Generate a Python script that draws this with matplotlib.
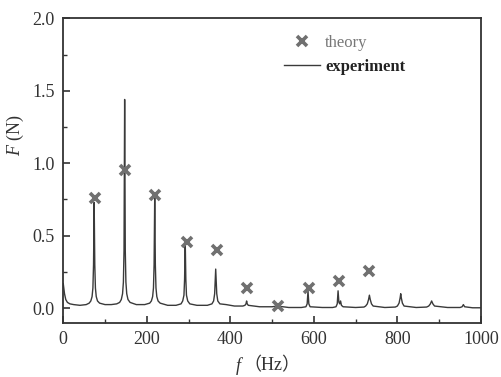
# -*- coding: utf-8 -*-
# 力谱：理论值(散点) vs 实验值(曲线)
import matplotlib.pyplot as plt
from matplotlib.ticker import MultipleLocator

# ===== 数据 =====
theory_f = [75, 148, 220, 296, 368, 440, 515, 589, 661, 733]
theory_F = [0.76, 0.95, 0.78, 0.455, 0.405, 0.14, 0.015, 0.14, 0.185, 0.255]

exp_f = [
    0, 3, 6, 10, 16, 25, 40, 55,
    62, 66, 69, 71, 72.5, 74, 75.5, 77, 79, 82, 87,
    100, 115, 128,
    135, 139, 142, 144, 145.5, 147, 148.5, 150, 152, 155, 160,
    175, 195,
    207, 211, 214, 216, 217.5, 219, 220.5, 222, 224, 227, 232,
    250, 270,
    282, 286, 289, 290.5, 292, 293.5, 295, 298, 303,
    320, 345,
    356, 360, 362.5, 365, 367.5, 370, 375,
    390, 410, 430,
    435, 437.5, 439, 440.5, 443,
    470, 500, 512, 540, 570,
    581, 584, 586, 588, 591,
    620, 645,
    653, 656, 658, 660, 662, 664, 666, 670,
    700, 720,
    724, 728, 731, 733, 735, 738, 742,
    770, 795,
    800, 804, 806.5, 808, 809.5, 812, 816,
    845, 870,
    875, 879, 882, 885, 889,
    920, 950, 955, 958, 961, 980, 1000,
]
exp_F = [
    0.17, 0.10, 0.06, 0.04, 0.03, 0.025, 0.02, 0.025,
    0.035, 0.05, 0.08, 0.14, 0.30, 0.73, 0.30, 0.14, 0.08, 0.05, 0.035,
    0.025, 0.025, 0.03,
    0.04, 0.06, 0.10, 0.18, 0.40, 1.44, 0.40, 0.18, 0.10, 0.06, 0.04,
    0.025, 0.025,
    0.035, 0.05, 0.08, 0.14, 0.30, 0.77, 0.30, 0.14, 0.08, 0.05, 0.035,
    0.02, 0.02,
    0.03, 0.05, 0.09, 0.20, 0.47, 0.20, 0.09, 0.05, 0.03,
    0.02, 0.02,
    0.03, 0.05, 0.10, 0.27, 0.10, 0.05, 0.03,
    0.025, 0.015, 0.015,
    0.02, 0.03, 0.05, 0.03, 0.02,
    0.01, 0.01, 0.015, 0.005, 0.005,
    0.01, 0.03, 0.12, 0.03, 0.01,
    0.005, 0.005,
    0.01, 0.03, 0.12, 0.04, 0.03, 0.05, 0.02, 0.01,
    0.005, 0.008,
    0.015, 0.03, 0.06, 0.09, 0.06, 0.03, 0.015,
    0.005, 0.008,
    0.015, 0.035, 0.07, 0.10, 0.07, 0.035, 0.015,
    0.005, 0.008,
    0.015, 0.03, 0.05, 0.03, 0.015,
    0.005, 0.005, 0.01, 0.025, 0.01, 0.003, 0.003,
]

plt.rcParams['font.family'] = ['Liberation Serif', 'Noto Sans CJK SC']
plt.rcParams['mathtext.fontset'] = 'custom'
plt.rcParams['mathtext.it'] = 'Liberation Serif:italic'
plt.rcParams['mathtext.rm'] = 'Liberation Serif'

fig = plt.figure(figsize=(5.02, 3.77), dpi=100)
ax = fig.add_axes([0.126, 0.144, 0.832, 0.8075])

ax.plot(exp_f, exp_F, color='#3a3a3a', lw=1.0, label='experiment', zorder=2)
ax.plot(theory_f, theory_F, ls='none', marker='x', ms=7.5, mew=2.6,
        color='#707070', label='theory', zorder=3)

ax.set_xlim(0, 1000)
ax.set_ylim(-0.1, 2.0)
ax.xaxis.set_major_locator(MultipleLocator(200))
ax.xaxis.set_minor_locator(MultipleLocator(100))
ax.yaxis.set_major_locator(MultipleLocator(0.5))
ax.yaxis.set_minor_locator(MultipleLocator(0.25))
ax.yaxis.set_major_formatter(plt.FormatStrFormatter('%.1f'))
ax.tick_params(which='both', direction='in', labelsize=13, colors='#333333')
ax.tick_params(which='major', length=5, width=1.2, pad=6)
ax.tick_params(which='minor', length=3, width=1.0)
for s in ax.spines.values():
    s.set_linewidth(1.3)
    s.set_color('#333333')

ax.set_ylabel('$F$ (N)', fontsize=13, color='#333333')
ax.yaxis.set_label_coords(-0.09, 0.615)

fig.text(236 / 502, 1 - 366 / 377, 'f', fontsize=13, style='italic',
         color='#333333', ha='left', va='center')
fig.text(243 / 502, 1 - 366 / 377, '（Hz）', fontsize=13, color='#333333',
         ha='left', va='center')

h, l = ax.get_legend_handles_labels()
leg = ax.legend(h[::-1], l[::-1], loc='upper right', bbox_to_anchor=(0.855, 0.995),
                frameon=False, fontsize=12, handlelength=2.2, handletextpad=0.3,
                labelspacing=0.5)
leg.get_texts()[0].set_color('#777777')
leg.get_texts()[1].set_color('#222222')
leg.get_texts()[1].set_fontweight('bold')

fig.savefig('out.png', dpi=100)
